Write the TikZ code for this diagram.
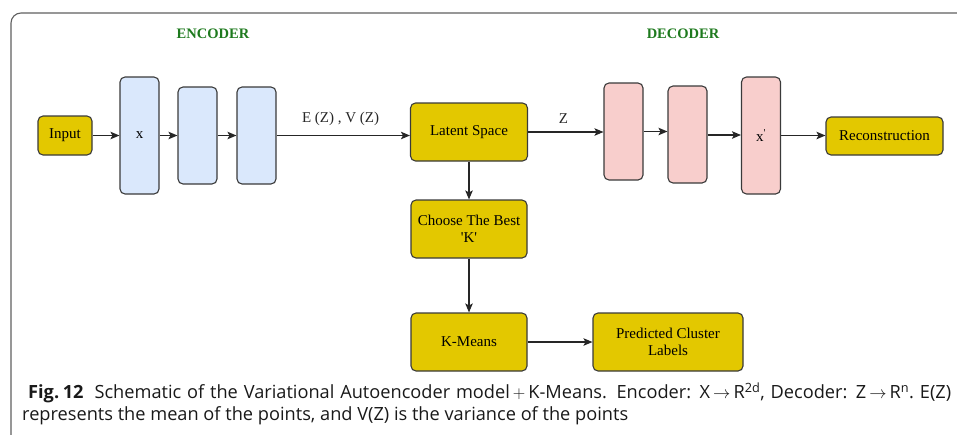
\documentclass[tikz,border=0pt]{standalone}
\usepackage{fontspec}
\setmainfont{Liberation Serif}
\newfontfamily\capfont{Open Sans}
\usetikzlibrary{arrows.meta}
\definecolor{goldfill}{HTML}{E3C800}
\definecolor{bluefill}{HTML}{DAE8FC}
\definecolor{pinkfill}{HTML}{F8CECC}
\definecolor{edgegray}{HTML}{3A3A3A}
\definecolor{titlegreen}{HTML}{1E7A1E}
\tikzset{
  goldbox/.style={draw=edgegray, line width=1.1pt, fill=goldfill, rounded corners=5pt,
    inner sep=0pt, align=center, font=\fontsize{15}{17}\selectfont},
  layerenc/.style={draw=edgegray, line width=1.1pt, fill=bluefill, rounded corners=5pt,
    inner sep=0pt, minimum width=39pt, font=\fontsize{15}{17}\selectfont},
  layerdec/.style={draw=edgegray, line width=1.1pt, fill=pinkfill, rounded corners=5pt,
    inner sep=0pt, minimum width=39pt, font=\fontsize{15}{17}\selectfont},
  flow/.style={draw=black!85, line width=1.1pt, -{Stealth[length=9pt,width=7.5pt,inset=2pt]}},
  sectiontitle/.style={text=titlegreen, font=\fontsize{14.5}{16}\selectfont\bfseries},
  edgelabel/.style={font=\fontsize{15}{17}\selectfont, text=black!85},
  captionline/.style={anchor=base west, inner sep=0pt, font=\capfont\fontsize{18.2}{20}\selectfont, text=black!90}
}
\begin{document}
\begin{tikzpicture}[x=1pt, y=-1pt]
  \useasboundingbox (0,0) rectangle (957,434);
  % outer frame
  \draw[gray!75!black, line width=1.1pt, rounded corners=10pt] (11,440) -- (11,13) -- (970,13);

  % titles
  \node[sectiontitle] (enc) at (213,34) {ENCODER};
  \node[sectiontitle] (dec) at (683,34) {DECODER};

  % encoder
  \node[goldbox, minimum width=54pt, minimum height=39pt] (input) at (65,135.5) {Input};
  \node[layerenc, minimum height=117pt] (x) at (139.5,135.5) {x};
  \node[layerenc, minimum height=97pt] (e2) at (197.5,135.5) {};
  \node[layerenc, minimum height=97pt] (e3) at (256.5,135.5) {};

  % latent space and clustering
  \node[goldbox, minimum width=117pt, minimum height=58pt] (latent) at (469,132) {Latent Space};
  \node[goldbox, minimum width=116pt, minimum height=58pt] (best) at (469,229) {Choose The Best\\\textquotesingle K\textquotesingle};
  \node[goldbox, minimum width=116pt, minimum height=58pt] (kmeans) at (469,342) {K-Means};
  \node[goldbox, minimum width=150pt, minimum height=58pt] (pred) at (668,342) {Predicted Cluster\\Labels};

  % decoder
  \node[layerdec, minimum height=97pt] (d1) at (623.5,131.5) {};
  \node[layerdec, minimum height=97pt] (d2) at (687.5,134.5) {};
  \node[layerdec, minimum height=117pt] (d3) at (761,135.5) {x\textsuperscript{\textquotesingle}};
  \node[goldbox, minimum width=117pt, minimum height=38pt] (recon) at (884.5,136) {Reconstruction};

  % connectors
  \draw[flow] (input.east) -- (x.west);
  \draw[flow] (x.east) -- (e2.west);
  \draw[flow] (e2.east) -- (e3.west);
  \draw[flow] (e3.east) -- (e3.east -| latent.west)
    node[edgelabel, pos=0.48, above=6pt] (evlab) {E (Z) , V (Z)};
  \draw[flow] (latent.east) -- (latent.east -| d1.west)
    node[edgelabel, pos=0.47, above=5pt] (zlab) {Z};
  \draw[flow] (d1.east) -- (d1.east -| d2.west);
  \draw[flow] (d2.east) ++(0,0.5) coordinate (d2out) -- (d2out -| d3.west);
  \draw[flow] (d3.east) -- (d3.east -| recon.west);
  \draw[flow] (latent.south) -- (best.north);
  \draw[flow] (best.south) -- (kmeans.north);
  \draw[flow] (kmeans.east) -- (pred.west);

  % caption: first line justified, second line ragged
  \node[captionline] (cap1) at (28,398.7) {\makebox[923pt][s]{\mbox{\textbf{Fig.\kern0.2em12}}\hspace{0.6em}Schematic of the Variational Autoencoder model\,$+$\,K-Means. Encoder: \mbox{X\,$\rightarrow$\,R\textsuperscript{2d},} Decoder: \mbox{Z\,$\rightarrow$\,R\textsuperscript{n}.} E(Z)}};
  \node[captionline] (cap2) at (22,420.7) {represents the mean of the points, and V(Z) is the variance of the points};
\end{tikzpicture}
\end{document}
